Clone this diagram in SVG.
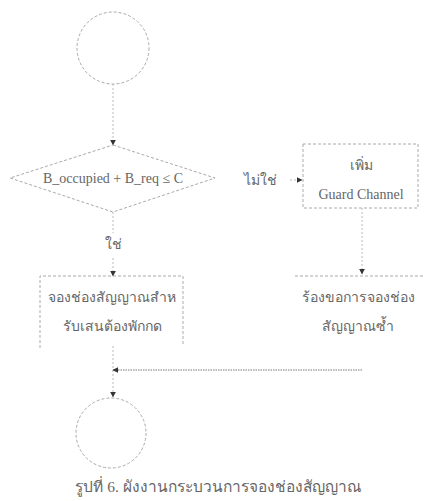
<svg xmlns="http://www.w3.org/2000/svg" width="426" height="501" viewBox="0 0 426 501">
<style>
text{font-family:"Liberation Serif","DejaVu Serif",serif;fill:#666;font-size:14px;text-anchor:middle}
.shape{fill:none;stroke:#aaa;stroke-width:1;stroke-dasharray:3 2}
.conn{fill:none;stroke:#bbb;stroke-width:1;stroke-dasharray:2 2}
.dark{stroke:#777;stroke-dasharray:1.5 1}
</style>
<defs>
<marker id="ah" viewBox="0 0 10 10" refX="9" refY="5" markerWidth="6" markerHeight="6" orient="auto">
<path d="M0,0 L10,5 L0,10 z" fill="#333"/>
</marker>
</defs>
<rect width="426" height="501" fill="#fff"/>
<g id="connectors">
<line class="conn" x1="113" y1="84" x2="113" y2="145" marker-end="url(#ah)"/>
<line class="conn" x1="113" y1="212" x2="113" y2="233"/>
<line class="conn" x1="113" y1="258" x2="113" y2="276" marker-end="url(#ah)"/>
<line class="conn" x1="290" y1="180" x2="302" y2="180" marker-end="url(#ah)"/>
<line class="conn" x1="362" y1="208" x2="362" y2="274" marker-end="url(#ah)"/>
<line class="conn" x1="113" y1="346" x2="113" y2="397" marker-end="url(#ah)"/>
<line class="conn dark" x1="362" y1="370" x2="113" y2="370" marker-end="url(#ah)"/>
</g>
<g id="start">
<circle class="shape" cx="113" cy="48" r="36"/>
</g>
<g id="decision">
<polygon class="shape" points="113,145 215,178 113,212 10,178"/>
<text x="113" y="183">B_occupied + B_req ≤ C</text>
</g>
<g id="label-no">
<text x="260" y="185">ไม่ใช่</text>
</g>
<g id="label-yes">
<text x="113" y="249">ใช่</text>
</g>
<g id="guard">
<rect class="shape" x="303" y="144" width="115" height="64"/>
<text x="361" y="170">เพิ่ม</text>
<text x="361" y="199">Guard Channel</text>
</g>
<g id="reserve">
<path class="shape" d="M40,348 V276 H183 V346"/>
<text x="112" y="302">จองช่องสัญญาณสำห</text>
<text x="112" y="331">รับเสนต้องพักกด</text>
</g>
<g id="retry">
<line class="shape" x1="295" y1="276" x2="425" y2="276"/>
<text x="358" y="302">ร้องขอการจองช่อง</text>
<text x="358" y="331">สัญญาณซ้ำ</text>
</g>
<g id="end">
<circle class="shape" cx="111" cy="433" r="35"/>
</g>
<text x="218" y="492" style="font-size:15.5px">รูปที่ 6. ผังงานกระบวนการจองช่องสัญญาณ</text>
</svg>
